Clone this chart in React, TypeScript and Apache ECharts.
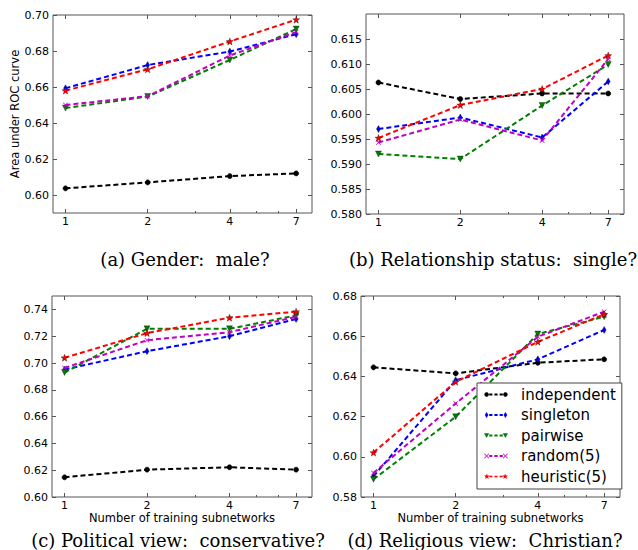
import React, { useEffect, useRef } from 'react';
import * as echarts from 'echarts';

// x values (number of training subnetworks) and minor tick positions
const subnetworks = [1, 2, 4, 7];
const minorTicks = [3, 5, 6];

const seriesNames = ['independent', 'singleton', 'pairwise', 'random(5)', 'heuristic(5)'];

// (a) Gender: male?
const genderIndependent = [0.6037, 0.607, 0.6105, 0.612];
const genderSingleton = [0.6593, 0.6722, 0.6797, 0.6893];
const genderPairwise = [0.6483, 0.6547, 0.675, 0.6922];
const genderRandom = [0.65, 0.6549, 0.6775, 0.6905];
const genderHeuristic = [0.658, 0.6698, 0.6853, 0.6974];

// (b) Relationship status: single?
const relIndependent = [0.6063, 0.603, 0.6041, 0.6041];
const relSingleton = [0.597, 0.5993, 0.5953, 0.6065];
const relPairwise = [0.592, 0.591, 0.6017, 0.6099];
const relRandom = [0.5943, 0.5989, 0.5947, 0.611];
const relHeuristic = [0.5952, 0.6018, 0.605, 0.6117];

// (c) Political view: conservative?
const polIndependent = [0.6147, 0.6204, 0.6222, 0.6204];
const polSingleton = [0.6951, 0.7088, 0.72, 0.7328];
const polPairwise = [0.6929, 0.7255, 0.7255, 0.7355];
const polRandom = [0.6963, 0.717, 0.723, 0.7345];
const polHeuristic = [0.7039, 0.7223, 0.7338, 0.7383];

// (d) Religious view: Christian?
const relgIndependent = [0.6445, 0.6415, 0.6468, 0.6485];
const relgSingleton = [0.5903, 0.6381, 0.6485, 0.6631];
const relgPairwise = [0.5888, 0.6199, 0.6611, 0.6697];
const relgRandom = [0.592, 0.6265, 0.6597, 0.6722];
const relgHeuristic = [0.6021, 0.6373, 0.6572, 0.6709];

// y tick labels
const genderTicks = [0.6, 0.62, 0.64, 0.66, 0.68, 0.7];
const relTicks = [0.58, 0.585, 0.59, 0.595, 0.6, 0.605, 0.61, 0.615];
const polTicks = [0.6, 0.62, 0.64, 0.66, 0.68, 0.7, 0.72, 0.74];
const relgTicks = [0.58, 0.6, 0.62, 0.64, 0.66, 0.68];

const captions = [
  '(a) Gender:  male?',
  '(b) Relationship status:  single?',
  '(c) Political view:  conservative?',
  '(d) Religious view:  Christian?',
];

const colors = ['#000000', '#0000ff', '#008000', '#c000c0', '#ff0000'];
const markerTypes = ['circle', 'diamond', 'tridown', 'x', 'star'];
const symbols = [
  'circle',
  'diamond',
  'triangle',
  'path://M0,1L1,0L5,4L9,0L10,1L6,5L10,9L9,10L5,6L1,10L0,9L4,5Z',
  'path://M5,0L6.2,3.4L9.8,3.5L7,5.7L8,9.2L5,7.2L2,9.2L3,5.7L0.2,3.5L3.8,3.4Z',
];
const symbolSizes: any[] = [5, [4, 7], 6, 5, 7];
const symbolRotates = [0, 0, 180, 0, 0];

const FONT = 'DejaVu Sans';
const FRAME = '#555';

// ---- legend icon: marker - - - marker (matplotlib style), in a 24x8 box ----
function poly(pts: number[][]) {
  return 'M' + pts.map((p) => p[0].toFixed(2) + ',' + p[1].toFixed(2)).join('L') + 'Z';
}
function markerPath(type: string, cx: number, cy: number) {
  const pts: number[][] = [];
  if (type === 'circle') {
    for (let k = 0; k < 10; k++) {
      const a = (k / 10) * Math.PI * 2;
      pts.push([cx + 2.3 * Math.cos(a), cy + 2.3 * Math.sin(a)]);
    }
    return poly(pts);
  }
  if (type === 'diamond') {
    return poly([[cx, cy - 3], [cx + 1.8, cy], [cx, cy + 3], [cx - 1.8, cy]]);
  }
  if (type === 'tridown') {
    return poly([[cx - 2.6, cy - 2.2], [cx + 2.6, cy - 2.2], [cx, cy + 2.6]]);
  }
  if (type === 'x') {
    const s = 0.5;
    return poly([
      [cx - 2.5, cy - 2.5 + 0.6], [cx - 2.5 + 0.6, cy - 2.5], [cx, cy - s], [cx + 2.5 - 0.6, cy - 2.5],
      [cx + 2.5, cy - 2.5 + 0.6], [cx + s, cy], [cx + 2.5, cy + 2.5 - 0.6], [cx + 2.5 - 0.6, cy + 2.5],
      [cx, cy + s], [cx - 2.5 + 0.6, cy + 2.5], [cx - 2.5, cy + 2.5 - 0.6], [cx - s, cy],
    ]);
  }
  for (let k = 0; k < 10; k++) {
    const a = -Math.PI / 2 + (k / 10) * Math.PI * 2;
    const r = k % 2 === 0 ? 3.1 : 1.3;
    pts.push([cx + r * Math.cos(a), cy + r * Math.sin(a)]);
  }
  return poly(pts);
}
function legendIcon(type: string) {
  const cy = 4;
  const dashes = [[5.2, 8.4], [10.4, 13.6], [15.6, 18.8]]
    .map(([a, b]) => poly([[a, cy - 0.9], [b, cy - 0.9], [b, cy + 0.9], [a, cy + 0.9]]))
    .join('');
  const corners = 'M0,0L0.01,0L0,0.01Z' + 'M24,8L23.99,8L24,7.99Z';
  return 'path://' + corners + markerPath(type, 2.6, cy) + dashes + markerPath(type, 21.4, cy);
}

const panels = [
  {
    grid: { left: 53, top: 15, width: 259, height: 198 },
    yMin: 0.59, yMax: 0.7, ticks: genderTicks, digits: 2,
    yName: 'Area under ROC curve', xName: '',
    cap: { x: 185, y: 259 },
    data: [genderIndependent, genderSingleton, genderPairwise, genderRandom, genderHeuristic],
  },
  {
    grid: { left: 366, top: 14, width: 258, height: 200 },
    yMin: 0.58, yMax: 0.62, ticks: relTicks, digits: 3,
    yName: '', xName: '',
    cap: { x: 493, y: 259 },
    data: [relIndependent, relSingleton, relPairwise, relRandom, relHeuristic],
  },
  {
    grid: { left: 52, top: 296, width: 260, height: 201 },
    yMin: 0.6, yMax: 0.75, ticks: polTicks, digits: 2,
    yName: '', xName: 'Number of training subnetworks',
    cap: { x: 178, y: 540 },
    data: [polIndependent, polSingleton, polPairwise, polRandom, polHeuristic],
  },
  {
    grid: { left: 361, top: 296, width: 259, height: 201 },
    yMin: 0.58, yMax: 0.68, ticks: relgTicks, digits: 2,
    yName: '', xName: 'Number of training subnetworks',
    cap: { x: 485, y: 540 },
    data: [relgIndependent, relgSingleton, relgPairwise, relgRandom, relgHeuristic],
  },
];

function buildOption() {
  const grid: any[] = [];
  const xAxis: any[] = [];
  const yAxis: any[] = [];
  const series: any[] = [];
  const graphic: any[] = [];

  panels.forEach((p, pi) => {
    grid.push({
      ...p.grid,
      show: true,
      borderColor: FRAME,
      borderWidth: 1,
      backgroundColor: 'transparent',
      containLabel: false,
    });
    const xBase = {
      gridIndex: pi,
      type: 'log',
      logBase: 2,
      min: 0.9,
      max: 8,
      axisLine: { show: false },
      splitLine: { show: false },
      minorTick: { show: false },
      minorSplitLine: { show: false },
    };
    const mainX = xAxis.length;
    xAxis.push({
      ...xBase,
      position: 'bottom',
      axisTick: { show: true, inside: true, length: 4, customValues: subnetworks, lineStyle: { color: FRAME } },
      axisLabel: {
        show: true,
        customValues: subnetworks,
        formatter: (v: number) => String(Math.round(v)),
        margin: 3,
        fontSize: 11,
        fontFamily: FONT,
        color: '#000',
      },
      name: p.xName,
      nameLocation: 'middle',
      nameGap: 10,
      nameTextStyle: { fontSize: 11.5, fontFamily: FONT, color: '#000', verticalAlign: 'top' },
    });
    xAxis.push({
      ...xBase,
      position: 'bottom',
      axisTick: { show: true, inside: true, length: 2, customValues: minorTicks, lineStyle: { color: FRAME } },
      axisLabel: { show: false },
    });
    xAxis.push({
      ...xBase,
      position: 'top',
      axisTick: { show: true, inside: true, length: 4, customValues: subnetworks, lineStyle: { color: FRAME } },
      axisLabel: { show: false },
    });
    xAxis.push({
      ...xBase,
      position: 'top',
      axisTick: { show: true, inside: true, length: 2, customValues: minorTicks, lineStyle: { color: FRAME } },
      axisLabel: { show: false },
    });

    const mainY = yAxis.length;
    const yBase = {
      gridIndex: pi,
      type: 'value',
      min: p.yMin,
      max: p.yMax,
      scale: true,
      axisLine: { show: false },
      splitLine: { show: false },
    };
    yAxis.push({
      ...yBase,
      position: 'left',
      axisTick: { show: true, inside: true, length: 4, customValues: p.ticks, lineStyle: { color: FRAME } },
      axisLabel: {
        show: true,
        customValues: p.ticks,
        formatter: (v: number) => v.toFixed(p.digits),
        margin: 4,
        fontSize: 11,
        fontFamily: FONT,
        color: '#000',
      },
      name: p.yName,
      nameLocation: 'middle',
      nameRotate: 90,
      nameGap: 28,
      nameTextStyle: { fontSize: 11.5, fontFamily: FONT, color: '#000' },
    });
    yAxis.push({
      ...yBase,
      position: 'right',
      axisTick: { show: true, inside: true, length: 4, customValues: p.ticks, lineStyle: { color: FRAME } },
      axisLabel: { show: false },
    });

    p.data.forEach((vals, si) => {
      series.push({
        type: 'line',
        name: seriesNames[si],
        xAxisIndex: mainX,
        yAxisIndex: mainY,
        data: subnetworks.map((x, i) => [x, vals[i]]),
        symbol: symbols[si],
        symbolSize: symbolSizes[si],
        symbolRotate: symbolRotates[si],
        showSymbol: true,
        lineStyle: { color: colors[si], width: 2, type: [5, 3] },
        itemStyle: {
          color: colors[si],
          borderColor: si === 0 || si === 3 ? colors[si] : 'rgba(0,0,0,0.55)',
          borderWidth: si === 3 ? 0 : 0.6,
        },
        emphasis: { disabled: true },
        z: 2 + si,
      });
    });

    graphic.push({
      type: 'text',
      x: p.cap.x,
      y: p.cap.y,
      style: {
        text: captions[pi],
        fontFamily: 'DejaVu Serif',
        fontSize: 18,
        fill: '#000',
        align: 'center',
        verticalAlign: 'middle',
      },
    });
  });

  return {
    animation: false,
    backgroundColor: '#ffffff',
    textStyle: { fontFamily: FONT },
    grid,
    xAxis,
    yAxis,
    series,
    graphic,
    legend: {
      data: seriesNames.map((n, i) => ({
        name: n,
        icon: legendIcon(markerTypes[i]),
        itemStyle: { color: colors[i], borderWidth: 0 },
      })),
      orient: 'vertical',
      left: 477,
      top: 383,
      backgroundColor: '#ffffff',
      borderColor: '#444',
      borderWidth: 1,
      borderRadius: 0,
      padding: [4, 6, 5, 7],
      itemGap: 5.5,
      itemWidth: 24,
      itemHeight: 8,
      selectedMode: false,
      textStyle: { fontSize: 15, fontFamily: FONT, color: '#000', padding: [0, 0, 0, 8] },
      z: 10,
    },
  };
}

export default function App() {
  const ref = useRef<HTMLDivElement>(null);
  useEffect(() => {
    if (!ref.current) return;
    const chart = echarts.init(ref.current, undefined, { renderer: 'svg' });
    chart.setOption(buildOption() as any);
    return () => chart.dispose();
  }, []);
  return (
    <div
      ref={ref}
      style={{ position: 'absolute', left: 0, top: 0, width: 638, height: 550, background: '#fff' }}
    />
  );
}
